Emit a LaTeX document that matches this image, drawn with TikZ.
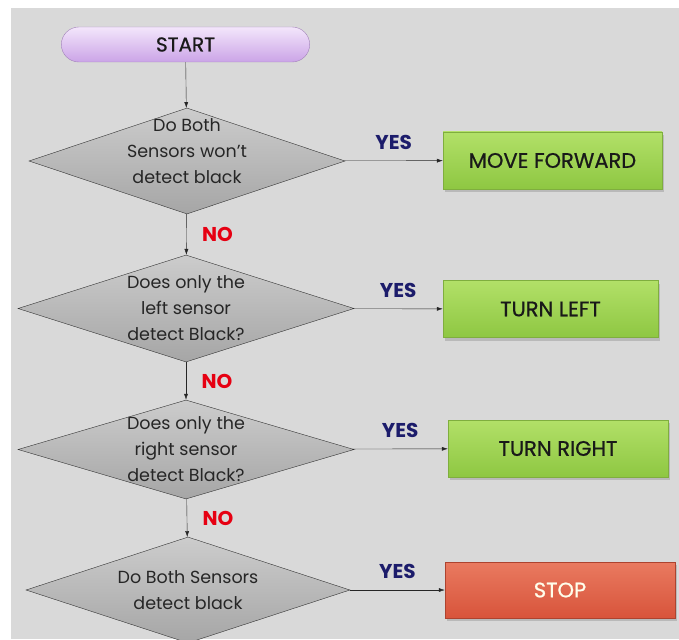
\documentclass[tikz,border=0pt]{standalone}
\usepackage{fontspec}
\setmainfont{Poppins}
\newfontfamily\boxfont[FakeBold=0.8]{Poppins}
\usetikzlibrary{shapes.geometric,shapes.misc,shadows,arrows.meta}

\definecolor{bggray}{HTML}{D9D9D9}
\definecolor{yesblue}{HTML}{1C1C6B}
\definecolor{nored}{HTML}{E60012}
\definecolor{boxtop}{HTML}{B2E068}
\definecolor{boxbot}{HTML}{8EC742}
\definecolor{boxline}{HTML}{7FAE3E}
\definecolor{stoptop}{HTML}{E97A60}
\definecolor{stopbot}{HTML}{D8543B}
\definecolor{pilltop}{HTML}{F3E6FB}
\definecolor{pillbot}{HTML}{CBA4E7}

\begin{document}
\begin{tikzpicture}[x=1pt,y=-1pt,
  decision/.style={diamond,draw=black!80,top color=gray!40,bottom color=gray!70,inner sep=0pt,aspect=3},
  qtext/.style={align=center,text=black!85,font=\fontsize{17.5}{26}\selectfont},
  action/.style={rectangle,draw=boxline,top color=boxtop,bottom color=boxbot,
    text=black!90,font=\fontsize{21}{24}\boxfont,minimum height=57pt,
    drop shadow={opacity=0.35,shadow xshift=2pt,shadow yshift=-3pt}},
  yes/.style={text=yesblue,font=\fontsize{20}{22}\selectfont\bfseries},
  no/.style={text=nored,font=\fontsize{20}{22}\selectfont\bfseries},
  flow/.style={-{Latex[length=6pt,width=4pt]},black!85}]

\clip (0,0) rectangle (679,639);
\fill[bggray] (11,8) rectangle (679,639);

\node[rounded rectangle,draw=pillbot!80!black,top color=pilltop,bottom color=pillbot,
  minimum width=255pt,minimum height=35pt,text=black!90,font=\fontsize{20}{22}\boxfont] (start) at (185.5,44.5) {START};

\node[decision,minimum width=316pt,minimum height=106pt,
  label={[qtext,yshift=10pt]center:{Do Both\\Sensors won’t\\detect black}}] (one) at (187,161) {};
\node[decision,minimum width=336pt,minimum height=107pt,
  label={[qtext]center:{Does only the\\left sensor\\detect Black?}}] (two) at (186,308.5) {};
\node[decision,minimum width=336pt,minimum height=99pt,
  label={[qtext]center:{Does only the\\right sensor\\detect Black?}}] (three) at (186,449.5) {};
\node[decision,minimum width=324pt,minimum height=106pt,
  label={[qtext]center:{Do Both Sensors\\detect black}}] (four) at (188,590) {};

\node[action,minimum width=219pt] (forward) at (552.5,160.5) {MOVE FORWARD};
\node[action,minimum width=215pt] (left) at (550.5,309) {TURN LEFT};
\node[action,minimum width=220pt] (right) at (558,448.5) {TURN RIGHT};
\node[action,minimum width=230pt,minimum height=56pt,draw=stopbot!80!black,
  top color=stoptop,bottom color=stopbot,text=white!92!yellow] (stop) at (560,590) {STOP};

\draw[flow] (start) -- (one);
\draw[flow] (one) -- node[no,right=12pt] {NO} (two);
\draw[flow] (two) -- node[no,right=12pt] {NO} (three);
\draw[flow] (three) -- node[no,right=12pt] {NO} (four);

\draw[flow] (one) -- node[yes,above=8pt] {YES} (forward);
\draw[flow] (two) -- node[yes,above=8pt] {YES} (left);
\draw[flow] (three) -- node[yes,above=8pt] {YES} (right);
\draw[flow] (four) -- node[yes,above=8pt] {YES} (stop);
\end{tikzpicture}
\end{document}
